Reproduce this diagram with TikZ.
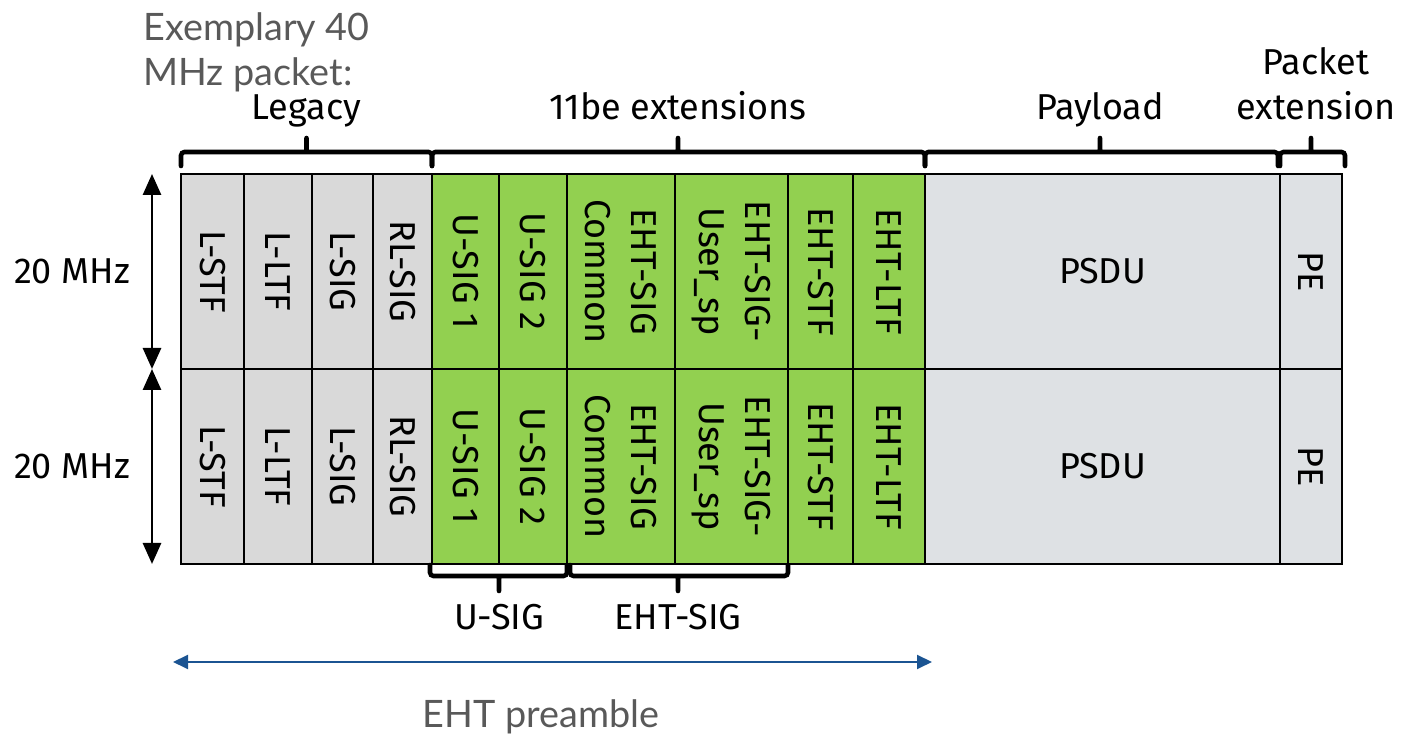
\documentclass[tikz,border=0pt]{standalone}
\usepackage{fontspec}
\setmainfont{Fira Sans}
\newfontfamily\notefont{Lato}
\usetikzlibrary{arrows.meta}
\definecolor{legacygrey}{HTML}{D9D9D9}
\definecolor{datagrey}{HTML}{DEE1E4}
\definecolor{ehtgreen}{HTML}{92D050}
\definecolor{preambleblue}{HTML}{1B5492}
\definecolor{notegrey}{HTML}{595959}
\tikzset{
  field/.style={draw=black, line width=1.1pt, inner sep=0pt, minimum height=3.9cm},
  legacyfield/.style={field, fill=legacygrey},
  extfield/.style={field, fill=ehtgreen},
  datafield/.style={field, fill=datagrey},
  fieldlabel/.style={align=center, font=\fontsize{20.5}{26}\selectfont},
  grouplabel/.style={align=center, font=\fontsize{20.5}{26}\selectfont},
  notelabel/.style={align=left, inner sep=0pt, text=notegrey, font=\notefont\fontsize{21.5}{25.6}\selectfont},
  groupbrace/.style={line width=2.6pt, line cap=round, rounded corners=2pt},
  bwarrow/.style={line width=1.6pt, {Triangle[length=0.42cm,width=0.36cm]}-{Triangle[length=0.42cm,width=0.36cm]}},
  spanarrow/.style={draw=preambleblue, line width=1.1pt, {Triangle[length=0.3cm,width=0.28cm]}-{Triangle[length=0.3cm,width=0.28cm]}},
}

\begin{document}
\begin{tikzpicture}
\useasboundingbox (0,0) rectangle (28.4,14.7);
\foreach \row/\yc in {t/9.27, b/5.37} {
  \foreach \n/\l/\r/\sty/\rot/\txt in {
      1/3.62/4.88/legacyfield/-90/L-STF,
      2/4.88/6.24/legacyfield/-90/L-LTF,
      3/6.24/7.46/legacyfield/-90/L-SIG,
      4/7.46/8.64/legacyfield/-90/RL-SIG,
      5/8.64/9.98/extfield/-90/U-SIG 1,
      6/9.98/11.34/extfield/-90/U-SIG 2,
      7/11.34/13.50/extfield/-90/{EHT-SIG\\Common},
      8/13.50/15.76/extfield/-90/{EHT-SIG-\\User\_sp},
      9/15.76/17.06/extfield/-90/EHT-STF,
      10/17.06/18.50/extfield/-90/EHT-LTF,
      11/18.50/25.60/datafield/0/PSDU,
      12/25.60/26.84/datafield/-90/PE} {
    \node[\sty, minimum width={(\r-\l)*1cm}] (f\n\row) at ({(\l+\r)/2},\yc) {};
    \node[fieldlabel, rotate=\rot] (l\n\row) at (f\n\row) {\txt};
  }
}
\draw[groupbrace] (3.62,11.38) -- (3.62,11.66) -- (8.64,11.66) -- (8.64,11.38) (6.13,11.66) -- (6.13,11.94);
\draw[groupbrace] (8.64,11.38) -- (8.64,11.66) -- (18.50,11.66) -- (18.50,11.38) (13.56,11.66) -- (13.56,11.94);
\draw[groupbrace] (18.50,11.38) -- (18.50,11.66) -- (25.56,11.66) -- (25.56,11.38) (22.00,11.66) -- (22.00,11.94);
\draw[groupbrace] (25.60,11.38) -- (25.60,11.66) -- (26.90,11.66) -- (26.90,11.38) (26.22,11.66) -- (26.22,11.94);
\draw[groupbrace] (8.60,3.40) -- (8.60,3.18) -- (11.34,3.18) -- (11.34,3.40) (9.98,3.18) -- (9.98,2.88);
\draw[groupbrace] (11.40,3.40) -- (11.40,3.18) -- (15.76,3.18) -- (15.76,3.40) (13.56,3.18) -- (13.56,2.88);
\node[grouplabel, anchor=base] (legacy) at (6.13,12.30) {Legacy};
\node[grouplabel, anchor=base] (ext) at (13.56,12.30) {11be extensions};
\node[grouplabel, anchor=base] (payload) at (22.00,12.30) {Payload};
\node[grouplabel, anchor=base] (pext) at (26.32,12.30) {Packet\\extension};
\node[grouplabel, anchor=base] (usig) at (9.98,2.10) {U-SIG};
\node[grouplabel, anchor=base] (ehtsig) at (13.56,2.10) {EHT-SIG};
\node[grouplabel, anchor=east] (bwt) at (2.72,9.27) {20 MHz};
\node[grouplabel, anchor=east] (bwb) at (2.72,5.37) {20 MHz};
\node[notelabel, anchor=north west] (note) at (2.86,14.46) {Exemplary 40\\MHz packet:};
\node[notelabel, anchor=base] (pre) at (10.82,0.14) {EHT preamble};
\coordinate (bwtop) at (3.04,11.22);
\coordinate (bwmid) at (3.04,7.32);
\coordinate (bwbot) at (3.04,3.42);
\draw[bwarrow] (bwtop) -- (bwmid);
\draw[bwarrow] (bwmid) -- (bwbot);
\coordinate (prel) at (3.46,1.46);
\coordinate (prer) at (18.64,1.46);
\draw[spanarrow] (prel) -- (prer);
\end{tikzpicture}
\end{document}
